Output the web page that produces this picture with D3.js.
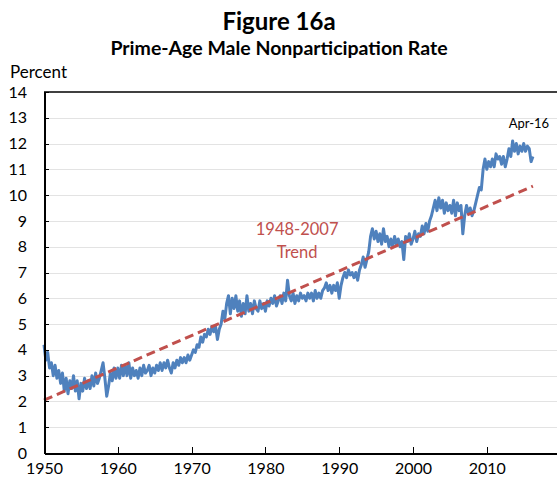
<!DOCTYPE html>
<meta charset="utf-8">
<style>
body { margin: 0; background: #fff; }
svg text { font-family: Lato, "Open Sans", sans-serif; fill: #000; }
.grid line { stroke: #e3e3e3; stroke-width: 1; shape-rendering: crispEdges; }
.grid path { display: none; }
.axis path, .axis line { stroke: #000; shape-rendering: crispEdges; }
</style>
<body>
<div id="chart"></div>
<script src="https://cdn.jsdelivr.net/npm/d3@7"></script>
<script>

// quarterly readings, starting Jan 1950 (last point = Apr 2016)
var startYear = 1950;
var rate1950s = [4.2, 3.6, 3.9, 3.3, 3.5, 3.0, 3.4, 2.9, 3.2, 2.7, 3.1, 2.4, 2.9, 2.3, 2.8, 2.5, 3.0, 2.4, 2.8, 2.1,
                 2.7, 2.4, 2.9, 2.5, 2.8, 2.5, 3.0, 2.6, 3.1, 2.7, 2.9, 3.2, 3.5, 2.9, 2.2, 2.6, 3.1, 2.8, 3.3, 2.9];
var rate1960s = [3.3, 2.9, 3.4, 3.0, 3.4, 3.0, 3.5, 2.9, 3.3, 3.0, 3.2, 2.9, 3.3, 3.0, 3.4, 3.1, 3.2, 3.4, 3.0, 3.3,
                 3.1, 3.4, 3.2, 3.5, 3.2, 3.5, 3.3, 3.6, 3.3, 3.1, 3.5, 3.3, 3.6, 3.4, 3.7, 3.5, 3.7, 3.5, 3.8, 3.6];
var rate1970s = [3.8, 4.0, 3.9, 4.2, 4.1, 4.5, 4.3, 4.6, 4.5, 4.8, 4.6, 4.9, 4.7, 4.9, 4.4, 4.8, 5.0, 5.5, 5.2, 5.8,
                 6.1, 5.4, 6.0, 5.6, 6.1, 5.5, 5.9, 5.3, 5.8, 5.4, 6.1, 5.5, 5.8, 5.4, 5.9, 5.6, 5.5, 5.9, 5.6, 5.8];
var rate1980s = [5.5, 5.9, 5.7, 6.0, 5.8, 6.1, 5.7, 5.9, 6.1, 5.8, 6.2, 5.9, 6.7, 6.1, 5.9, 6.2, 5.8, 6.1, 5.9, 6.2,
                 6.0, 6.1, 5.9, 6.2, 6.0, 6.2, 5.9, 6.3, 6.0, 6.2, 6.0, 6.3, 6.4, 6.6, 6.3, 6.5, 6.2, 6.5, 6.3, 6.6];
var rate1990s = [6.0, 6.5, 6.8, 7.0, 6.8, 7.1, 6.9, 7.0, 6.8, 7.0, 6.7, 7.1, 7.3, 7.6, 7.2, 7.5, 7.8, 8.4, 8.7, 8.3,
                 8.6, 8.2, 8.5, 8.1, 8.7, 8.2, 8.4, 8.0, 8.3, 8.0, 8.4, 8.1, 8.3, 8.0, 8.2, 7.5, 8.4, 8.2, 8.5, 8.1];
var rate2000s = [8.3, 8.6, 8.2, 8.5, 8.4, 8.8, 8.5, 8.9, 8.6, 9.0, 9.2, 9.5, 9.8, 9.4, 9.9, 9.5, 9.8, 9.3, 9.7, 9.4,
                 9.6, 9.3, 9.8, 9.2, 9.7, 9.4, 9.6, 8.5, 9.2, 9.6, 9.3, 9.5, 9.2, 9.4, 9.7, 10.0, 10.3, 10.2, 11.0, 11.4];
var rate2010s = [11.0, 11.3, 11.1, 11.4, 11.1, 11.6, 11.4, 11.5, 11.2, 11.5, 11.1, 11.4, 11.8, 11.5, 12.1, 11.7,
                 12.0, 11.6, 11.9, 11.7, 12.0, 11.7, 11.9, 11.8, 11.3, 11.5];

// 1948-2007 trend, end points
var trendYears = [1950, 2016.25];
var trendValues = [2.05, 10.35];

var yTicks = [0, 1, 2, 3, 4, 5, 6, 7, 8, 9, 10, 11, 12, 13, 14];
var xTicks = [1950, 1960, 1970, 1980, 1990, 2000, 2010];

var blue = "#4f81bd", red = "#c0504d";

var rates = [].concat(rate1950s, rate1960s, rate1970s, rate1980s, rate1990s, rate2000s, rate2010s);
var series = rates.map(function(v, i) { return {year: startYear + i / 4, value: v}; });
var trend = trendYears.map(function(y, i) { return {year: y, value: trendValues[i]}; });

var width = 557, height = 480;
var plotLeft = 44, plotRight = 560.6, plotTop = 92, plotBottom = 453;

var svg = d3.select("#chart").append("svg")
  .attr("width", width)
  .attr("height", height);

var x = d3.scaleLinear().domain([1950, 2020]).range([plotLeft, plotRight]);
var y = d3.scaleLinear().domain([0, 14]).range([plotBottom, plotTop]);

// gridlines
svg.append("g")
  .attr("class", "grid")
  .attr("transform", "translate(" + plotLeft + ",0)")
  .call(d3.axisRight(y).tickValues(yTicks.slice(1, -1)).tickSize(width - plotLeft).tickFormat(""));

// top frame line
svg.append("line")
  .attr("x1", plotLeft).attr("x2", width)
  .attr("y1", y(14)).attr("y2", y(14))
  .attr("stroke", "#000").attr("stroke-width", 1.5);

var line = d3.line()
  .x(function(d) { return x(d.year); })
  .y(function(d) { return y(d.value); });

// blue data line
svg.append("path")
  .datum(series)
  .attr("fill", "none")
  .attr("stroke", blue)
  .attr("stroke-width", 3)
  .attr("stroke-linejoin", "round")
  .attr("d", line);

// dashed trend line
svg.append("path")
  .datum(trend)
  .attr("fill", "none")
  .attr("stroke", red)
  .attr("stroke-width", 3)
  .attr("stroke-dasharray", "9,5")
  .attr("d", line);

// y axis
var yAxis = svg.append("g")
  .attr("class", "axis")
  .attr("transform", "translate(" + plotLeft + ",0)")
  .call(d3.axisLeft(y).tickValues(yTicks).tickSizeInner(-5).tickSizeOuter(0).tickPadding(17));
yAxis.select(".domain").attr("stroke-width", 2);
yAxis.selectAll("text").style("font-size", "16px");

// x axis
var xAxis = svg.append("g")
  .attr("class", "axis")
  .attr("transform", "translate(0," + plotBottom + ")")
  .call(d3.axisBottom(x).tickValues(xTicks).tickFormat(d3.format("d")).tickSizeInner(-6).tickSizeOuter(0).tickPadding(10));
xAxis.select(".domain").attr("stroke-width", 2);
xAxis.selectAll("text").style("font-size", "16px");

// titles
svg.append("text")
  .attr("x", 279).attr("y", 30)
  .attr("text-anchor", "middle")
  .style("font-size", "24px").style("font-weight", "bold")
  .text("Figure 16a");

svg.append("text")
  .attr("x", 279).attr("y", 55)
  .attr("text-anchor", "middle")
  .style("font-size", "19.5px").style("font-weight", "bold")
  .text("Prime-Age Male Nonparticipation Rate");

svg.append("text")
  .attr("x", 10).attr("y", 78)
  .style("font-size", "17px")
  .text("Percent");

// trend label
svg.append("text")
  .attr("x", x(1984.3)).attr("y", 235)
  .attr("text-anchor", "middle")
  .style("font-size", "16.5px").style("fill", red)
  .text("1948-2007");
svg.append("text")
  .attr("x", x(1984.3)).attr("y", 258)
  .attr("text-anchor", "middle")
  .style("font-size", "16.5px").style("fill", red)
  .text("Trend");

// last point label
svg.append("text")
  .attr("x", x(2015.7)).attr("y", 128)
  .attr("text-anchor", "middle")
  .style("font-size", "13px")
  .text("Apr-16");

</script>
</body>
